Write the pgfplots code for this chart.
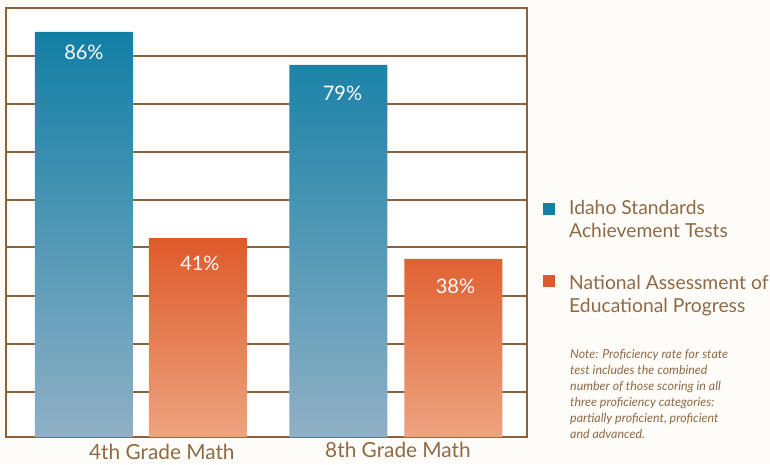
\documentclass[border=0pt]{standalone}
\usepackage{pgfplots}
\pgfplotsset{compat=1.18}
\usepackage{fontspec}
\setmainfont{Lato}
\definecolor{brownline}{HTML}{8B6239}
\definecolor{browntext}{HTML}{8F6A45}
\definecolor{tealtop}{HTML}{127FA5}
\definecolor{tealbot}{HTML}{8FB0C6}
\definecolor{orgtop}{HTML}{DF5A2A}
\definecolor{orgbot}{HTML}{EDA37F}
\definecolor{pagebg}{HTML}{FEFCF9}
\begin{document}
\begin{tikzpicture}[x=1pt,y=1pt]
\fill[pagebg] (0,0) rectangle (770,464);
\path[use as bounding box] (0,0) rectangle (770,464);
\begin{axis}[
  at={(6pt,27pt)}, anchor=south west,
  scale only axis, width=521pt, height=429pt,
  xmin=-0.529, xmax=1.514, ymin=0, ymax=91.08,
  axis background/.style={fill=white},
  axis line style={draw=brownline, line width=2.6pt},
  ytick={9.55,19.75,29.94,40.34,50.32,60.5,70.7,80.9},
  yticklabels={}, ymajorgrids,
  grid style={draw=brownline, line width=2pt},
  major tick length=0pt,
  xtick={0.082,1.008},
  xticklabels={4th Grade Math,\raisebox{2pt}[0pt][0pt]{8th Grade Math}},
  x tick label style={font=\fontsize{20.8}{24}\selectfont, text=browntext, text height=15pt, text depth=0pt, inner sep=0pt, yshift=-7.5pt},
  ybar, bar width=98pt, bar shift=0pt,
  nodes near coords, point meta=explicit symbolic,
  nodes near coords align={below},
  every node near coord/.style={font=\fontsize{20}{24}\selectfont, text=white, text height=14pt, text depth=0pt, yshift=-14pt},
  legend style={at={(537pt,239pt)}, anchor=north west, draw=none, fill=none,
    legend cell align=left, row sep=32pt, inner sep=0pt, column sep=12pt,
    font=\fontsize{19.3}{23}\selectfont, text=browntext, nodes={align=left}},
  clip=false,
]
% blue bars
\addplot[draw=none, top color=tealtop, bottom color=tealbot,
  legend image code/.code={\fill[tealtop, shade=false] (0pt,5pt) rectangle (12pt,17pt);}]
  table[meta=label]{
  x y label
  -0.2235 86 \raisebox{4pt}[0pt][0pt]{86\%}
  0.7745 79 \hspace{8pt}\raisebox{-4pt}[0pt][0pt]{79\%}
};
\addlegendentry{Idaho Standards\\Achievement Tests}
% orange bars (heights as drawn in the reference)
\addplot[draw=none, top color=orgtop, bottom color=orgbot,
  legend image code/.code={\fill[orgtop, shade=false] (0pt,7pt) rectangle (12pt,19pt);}]
  table[meta=label]{
  x y label
  0.2235 42.2 \hspace{4pt}\raisebox{-1pt}[0pt][0pt]{41\%}
  1.2255 37.8 \hspace{4pt}\raisebox{-3pt}[0pt][0pt]{38\%}
};
\addlegendentry{National Assessment of\\Educational Progress}
\end{axis}
\node[anchor=north west, inner sep=0pt, align=left, text=browntext,
  font=\fontsize{12.4}{16}\selectfont\itshape] at (570,115)
  {Note: Proficiency rate for state\\test includes the combined\\number of those scoring in all\\three proficiency categories:\\partially proficient, proficient\\and advanced.};
\end{tikzpicture}
\end{document}
